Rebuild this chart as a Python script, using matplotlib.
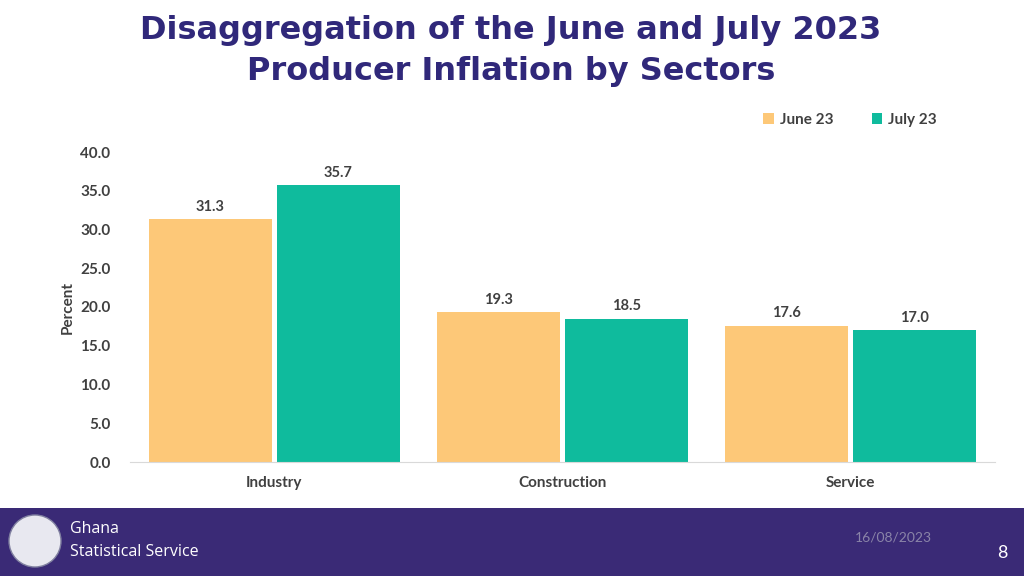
import numpy as np
import matplotlib
matplotlib.use("Agg")
from matplotlib import pyplot as plt
from matplotlib.patches import Rectangle, Ellipse

sectors = ["Industry", "Construction", "Service"]
june = [31.3, 19.3, 17.6]
july = [35.7, 18.5, 17.0]
series_names = ["June 23", "July 23"]
yticks = [0, 5, 10, 15, 20, 25, 30, 35, 40]

june_col = "#FDC878"
july_col = "#0FBB9D"
txt_col = "#404040"

fig = plt.figure(figsize=(10.24, 5.76), dpi=100)
fig.patch.set_facecolor("white")

# footer band
fig.patches.append(Rectangle((0, 0), 1, 68 / 576, transform=fig.transFigure,
                             facecolor="#3A2A76", edgecolor="none", zorder=0))
fig.text(70 / 1024, 1 - 529 / 576, "Ghana", color="white", fontsize=11.5,
         family="Open Sans", va="center")
fig.text(70 / 1024, 1 - 552 / 576, "Statistical Service", color="white", fontsize=11.5,
         family="Open Sans", va="center")
fig.patches.append(Ellipse((35 / 1024, 1 - 541 / 576), 52 / 1024, 52 / 576,
                           transform=fig.transFigure,
                           facecolor="#E8E8F0", edgecolor="#8080a0", zorder=1))
fig.text(932 / 1024, 1 - 538 / 576, "16/08/2023", color="#8A84A8", fontsize=10,
         family="Lato", ha="right", va="center")
fig.text(1002 / 1024, 1 - 553 / 576, "8", color="white", fontsize=13,
         family="Lato", ha="center", va="center")

fig.text(511 / 1024, 1 - 51 / 576, "Disaggregation of the June and July 2023\nProducer Inflation by Sectors",
         color="#30287A", fontsize=23, fontweight="bold", family="DejaVu Sans",
         ha="center", va="center", linespacing=1.45)

ax = fig.add_axes([130 / 1024, 1 - 462 / 576, 865 / 1024, 310 / 576])
x = np.arange(len(sectors))
w = 123 / 288
off = 64 / 288
b1 = ax.bar(x - off, june, w, color=june_col, label=series_names[0])
b2 = ax.bar(x + off, july, w, color=july_col, label=series_names[1])
for bars in (b1, b2):
    for r in bars:
        ax.text(r.get_x() + r.get_width() / 2, r.get_height() + 0.7, f"{r.get_height():.1f}",
                ha="center", va="bottom", fontsize=10.5, fontweight="bold",
                color=txt_col, family="Lato")

ax.set_xlim(-0.5, 2.5)
ax.set_ylim(0, 40)
ax.set_yticks(yticks)
ax.set_yticklabels([f"{v:.1f}" for v in yticks])
ax.set_xticks(x)
ax.set_xticklabels(sectors)
for s in ["top", "right", "left"]:
    ax.spines[s].set_visible(False)
ax.spines["bottom"].set_color("#D9D9D9")
ax.tick_params(axis="both", length=0, colors=txt_col, labelsize=11)
ax.tick_params(axis="x", pad=10)
ax.tick_params(axis="y", pad=14)
for lab in ax.get_xticklabels() + ax.get_yticklabels():
    lab.set_fontweight("bold")
    lab.set_family("Lato")
ax.set_ylabel("Percent", fontsize=11, fontweight="bold", color=txt_col, family="Lato", labelpad=4)

leg = fig.legend(handles=[b1, b2], labels=series_names, loc="center",
                 bbox_to_anchor=(850 / 1024, 1 - 120 / 576), ncol=2, frameon=False,
                 handlelength=0.7, handleheight=0.7, columnspacing=2.5, handletextpad=0.4,
                 prop={"family": "Lato", "weight": "bold", "size": 11})
for t in leg.get_texts():
    t.set_color(txt_col)

fig.savefig("out.png", dpi=100)
